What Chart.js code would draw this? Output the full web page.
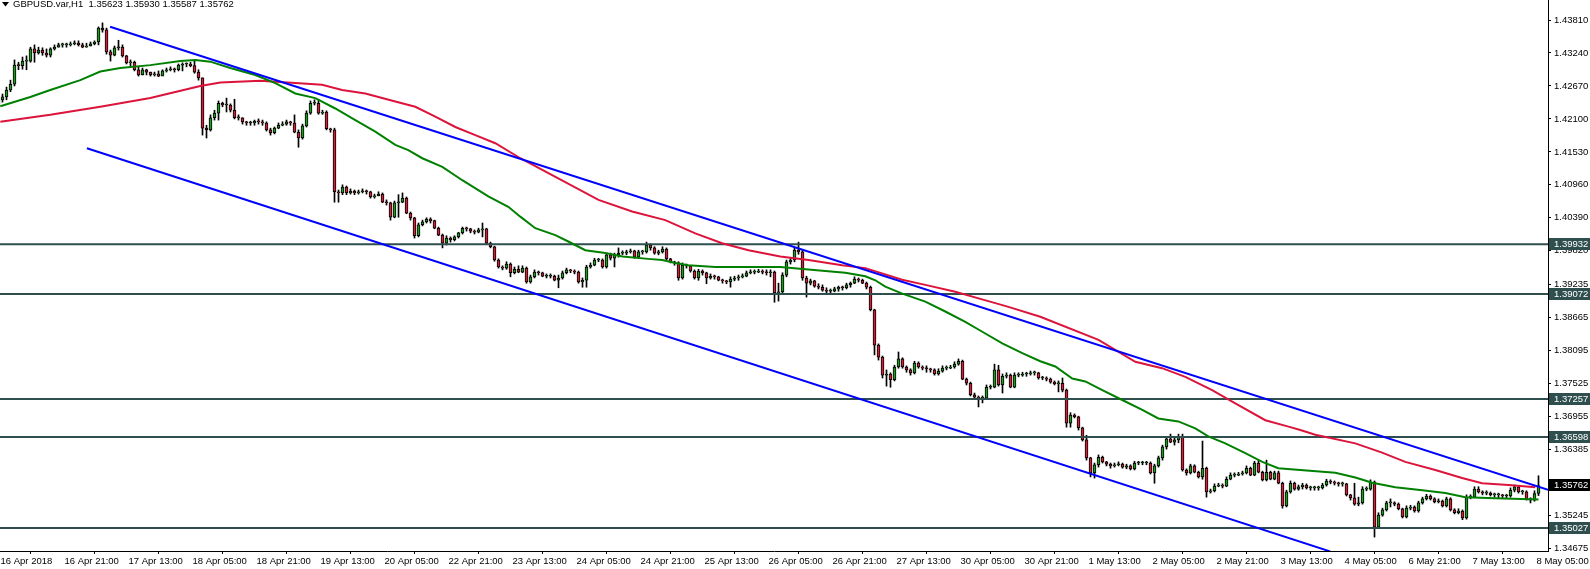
<!DOCTYPE html>
<html lang="en">
<head>
<meta charset="UTF-8">
<title>GBPUSD.var,H1</title>
<script src="https://cdn.jsdelivr.net/npm/chart.js"></script>
<style>
  html, body { margin: 0; padding: 0; background: #fff; }
  canvas { display: block; }
</style>
</head>
<body>
<canvas id="chart" width="1590" height="569"></canvas>
<script>
// H1 bars, 16 Apr 2018 -> 8 May 2018 (bar index = hour count on chart)
const firstOpen = 1.4234;
const closes = [
  1.4243, 1.4248, 1.4260, 1.4270, 1.4303, 1.4302, 1.4310, 1.4310, 1.4331, 1.4324,
  1.4329, 1.4324, 1.4320, 1.4331, 1.4334, 1.4338, 1.4338, 1.4338, 1.4340, 1.4341,
  1.4338, 1.4334, 1.4336, 1.4340, 1.4343, 1.4367, 1.4364, 1.4326, 1.4320, 1.4333,
  1.4334, 1.4319, 1.4307, 1.4308, 1.4295, 1.4286, 1.4295, 1.4291, 1.4286, 1.4288,
  1.4284, 1.4293, 1.4295, 1.4296, 1.4295, 1.4303, 1.4305, 1.4305, 1.4302, 1.4291,
  1.4281, 1.4194, 1.4191, 1.4212, 1.4220, 1.4237, 1.4234, 1.4234, 1.4225, 1.4212,
  1.4212, 1.4205, 1.4203, 1.4203, 1.4206, 1.4205, 1.4203, 1.4191, 1.4186, 1.4194,
  1.4199, 1.4201, 1.4205, 1.4203, 1.4187, 1.4177, 1.4198, 1.4220, 1.4237, 1.4237,
  1.4220, 1.4222, 1.4193, 1.4191, 1.4084, 1.4082, 1.4092, 1.4082, 1.4085, 1.4082,
  1.4084, 1.4085, 1.4084, 1.4075, 1.4077, 1.4080, 1.4066, 1.4065, 1.4040, 1.4065,
  1.4066, 1.4073, 1.4047, 1.4039, 1.4008, 1.4027, 1.4032, 1.4037, 1.4034, 1.4021,
  1.4009, 1.3995, 1.4004, 1.4001, 1.4006, 1.4013, 1.4021, 1.4020, 1.4016, 1.4014,
  1.4018, 1.4020, 1.3995, 1.3989, 1.3966, 1.3954, 1.3952, 1.3959, 1.3944, 1.3950,
  1.3945, 1.3952, 1.3928, 1.3937, 1.3945, 1.3944, 1.3938, 1.3938, 1.3938, 1.3931,
  1.3935, 1.3944, 1.3949, 1.3947, 1.3945, 1.3928, 1.3931, 1.3954, 1.3957, 1.3966,
  1.3966, 1.3954, 1.3975, 1.3969, 1.3975, 1.3978, 1.3978, 1.3980, 1.3982, 1.3971,
  1.3980, 1.3980, 1.3992, 1.3987, 1.3978, 1.3980, 1.3985, 1.3968, 1.3963, 1.3961,
  1.3935, 1.3957, 1.3956, 1.3947, 1.3935, 1.3947, 1.3944, 1.3935, 1.3938, 1.3937,
  1.3931, 1.3930, 1.3928, 1.3933, 1.3935, 1.3937, 1.3938, 1.3944, 1.3945, 1.3945,
  1.3947, 1.3945, 1.3944, 1.3945, 1.3909, 1.3911, 1.3940, 1.3963, 1.3966, 1.3983,
  1.3980, 1.3935, 1.3926, 1.3930, 1.3921, 1.3919, 1.3914, 1.3912, 1.3912, 1.3916,
  1.3919, 1.3918, 1.3923, 1.3926, 1.3933, 1.3931, 1.3926, 1.3919, 1.3880, 1.3819,
  1.3798, 1.3767, 1.3769, 1.3759, 1.3781, 1.3795, 1.3781, 1.3776, 1.3771, 1.3788,
  1.3781, 1.3779, 1.3778, 1.3776, 1.3769, 1.3774, 1.3779, 1.3779, 1.3781, 1.3786,
  1.3791, 1.3760, 1.3753, 1.3733, 1.3729, 1.3727, 1.3727, 1.3746, 1.3746, 1.3776,
  1.3750, 1.3765, 1.3767, 1.3746, 1.3767, 1.3767, 1.3769, 1.3769, 1.3771, 1.3771,
  1.3762, 1.3762, 1.3760, 1.3755, 1.3752, 1.3753, 1.3741, 1.3684, 1.3698, 1.3695,
  1.3676, 1.3655, 1.3624, 1.3598, 1.3612, 1.3625, 1.3617, 1.3613, 1.3610, 1.3612,
  1.3613, 1.3608, 1.3610, 1.3605, 1.3615, 1.3615, 1.3615, 1.3615, 1.3598, 1.3610,
  1.3624, 1.3643, 1.3657, 1.3651, 1.3655, 1.3660, 1.3603, 1.3598, 1.3610, 1.3599,
  1.3591, 1.3606, 1.3565, 1.3567, 1.3575, 1.3577, 1.3575, 1.3587, 1.3594, 1.3594,
  1.3596, 1.3598, 1.3606, 1.3594, 1.3615, 1.3599, 1.3586, 1.3599, 1.3587, 1.3598,
  1.3580, 1.3541, 1.3565, 1.3580, 1.3570, 1.3574, 1.3577, 1.3572, 1.3572, 1.3572,
  1.3572, 1.3577, 1.3584, 1.3582, 1.3580, 1.3579, 1.3579, 1.3560, 1.3555, 1.3544,
  1.3546, 1.3570, 1.3570, 1.3582, 1.3504, 1.3525, 1.3534, 1.3546, 1.3546, 1.3544,
  1.3536, 1.3522, 1.3537, 1.3539, 1.3532, 1.3546, 1.3553, 1.3558, 1.3553, 1.3548,
  1.3549, 1.3541, 1.3553, 1.3534, 1.3529, 1.3532, 1.3520, 1.3556, 1.3556, 1.3570,
  1.3565, 1.3563, 1.3563, 1.3560, 1.3560, 1.3560, 1.3558, 1.3558, 1.3568, 1.3574,
  1.3565, 1.3565, 1.3553, 1.3551, 1.35623, 1.35762
];
const highs = [
  1.4248, 1.4253, 1.4265, 1.4277, 1.4312, 1.4308, 1.4317, 1.4319, 1.4334, 1.4338,
  1.4334, 1.4333, 1.4331, 1.4333, 1.4338, 1.4341, 1.4341, 1.4341, 1.4343, 1.4345,
  1.4345, 1.4341, 1.4341, 1.4343, 1.4345, 1.4369, 1.4376, 1.4367, 1.4329, 1.4336,
  1.4346, 1.4338, 1.4320, 1.4312, 1.4310, 1.4300, 1.4298, 1.4296, 1.4291, 1.4291,
  1.4293, 1.4295, 1.4298, 1.4300, 1.4298, 1.4305, 1.4307, 1.4307, 1.4308, 1.4310,
  1.4295, 1.4281, 1.4199, 1.4217, 1.4225, 1.4241, 1.4239, 1.4246, 1.4236, 1.4244,
  1.4217, 1.4212, 1.4206, 1.4206, 1.4208, 1.4210, 1.4208, 1.4205, 1.4194, 1.4196,
  1.4203, 1.4205, 1.4208, 1.4206, 1.4217, 1.4191, 1.4201, 1.4224, 1.4241, 1.4243,
  1.4244, 1.4225, 1.4224, 1.4194, 1.4194, 1.4087, 1.4096, 1.4094, 1.4089, 1.4087,
  1.4087, 1.4089, 1.4087, 1.4085, 1.4080, 1.4084, 1.4082, 1.4070, 1.4066, 1.4068,
  1.4079, 1.4082, 1.4075, 1.4049, 1.4040, 1.4030, 1.4035, 1.4039, 1.4039, 1.4035,
  1.4023, 1.4011, 1.4008, 1.4006, 1.4008, 1.4014, 1.4023, 1.4023, 1.4021, 1.4018,
  1.4021, 1.4030, 1.4021, 1.3997, 1.3990, 1.3968, 1.3956, 1.3963, 1.3961, 1.3954,
  1.3956, 1.3956, 1.3954, 1.3940, 1.3949, 1.3947, 1.3945, 1.3942, 1.3942, 1.3940,
  1.3940, 1.3947, 1.3952, 1.3950, 1.3949, 1.3947, 1.3935, 1.3957, 1.3961, 1.3969,
  1.3969, 1.3968, 1.3978, 1.3978, 1.3978, 1.3987, 1.3982, 1.3983, 1.3985, 1.3983,
  1.3983, 1.3983, 1.3997, 1.3994, 1.3989, 1.3983, 1.3989, 1.3987, 1.3969, 1.3964,
  1.3963, 1.3961, 1.3959, 1.3957, 1.3949, 1.3950, 1.3949, 1.3945, 1.3942, 1.3940,
  1.3938, 1.3933, 1.3931, 1.3937, 1.3938, 1.3940, 1.3942, 1.3947, 1.3949, 1.3949,
  1.3950, 1.3949, 1.3949, 1.3949, 1.3947, 1.3926, 1.3944, 1.3966, 1.3969, 1.3987,
  1.3997, 1.3983, 1.3938, 1.3933, 1.3931, 1.3925, 1.3923, 1.3918, 1.3916, 1.3919,
  1.3921, 1.3921, 1.3926, 1.3928, 1.3937, 1.3935, 1.3933, 1.3928, 1.3921, 1.3881,
  1.3821, 1.3800, 1.3776, 1.3771, 1.3784, 1.3807, 1.3797, 1.3783, 1.3778, 1.3791,
  1.3790, 1.3783, 1.3783, 1.3779, 1.3778, 1.3778, 1.3783, 1.3783, 1.3784, 1.3790,
  1.3795, 1.3793, 1.3762, 1.3755, 1.3736, 1.3731, 1.3731, 1.3750, 1.3750, 1.3786,
  1.3784, 1.3769, 1.3771, 1.3769, 1.3771, 1.3771, 1.3772, 1.3772, 1.3774, 1.3774,
  1.3772, 1.3765, 1.3764, 1.3762, 1.3757, 1.3757, 1.3762, 1.3743, 1.3702, 1.3700,
  1.3696, 1.3677, 1.3663, 1.3625, 1.3615, 1.3629, 1.3627, 1.3618, 1.3615, 1.3615,
  1.3617, 1.3615, 1.3613, 1.3612, 1.3618, 1.3618, 1.3618, 1.3618, 1.3617, 1.3613,
  1.3627, 1.3646, 1.3660, 1.3665, 1.3658, 1.3665, 1.3665, 1.3605, 1.3613, 1.3612,
  1.3601, 1.3653, 1.3608, 1.3570, 1.3579, 1.3580, 1.3579, 1.3591, 1.3598, 1.3598,
  1.3599, 1.3601, 1.3610, 1.3608, 1.3618, 1.3620, 1.3601, 1.3620, 1.3601, 1.3601,
  1.3601, 1.3582, 1.3568, 1.3584, 1.3582, 1.3577, 1.3580, 1.3579, 1.3575, 1.3575,
  1.3575, 1.3580, 1.3587, 1.3586, 1.3584, 1.3582, 1.3582, 1.3580, 1.3561, 1.3580,
  1.3556, 1.3574, 1.3574, 1.3586, 1.3584, 1.3529, 1.3537, 1.3549, 1.3553, 1.3548,
  1.3546, 1.3537, 1.3541, 1.3542, 1.3541, 1.3549, 1.3556, 1.3561, 1.3560, 1.3555,
  1.3553, 1.3551, 1.3556, 1.3555, 1.3536, 1.3536, 1.3534, 1.3560, 1.3560, 1.3574,
  1.3574, 1.3567, 1.3567, 1.3565, 1.3563, 1.3563, 1.3561, 1.3561, 1.3572, 1.3577,
  1.3575, 1.3568, 1.3567, 1.3555, 1.3567, 1.35930
];
const lows = [
  1.4231, 1.4239, 1.4243, 1.4257, 1.4267, 1.4295, 1.4296, 1.4295, 1.4308, 1.4308,
  1.4322, 1.4320, 1.4317, 1.4317, 1.4329, 1.4334, 1.4334, 1.4334, 1.4336, 1.4338,
  1.4336, 1.4333, 1.4334, 1.4336, 1.4338, 1.4338, 1.4360, 1.4322, 1.4310, 1.4319,
  1.4329, 1.4317, 1.4305, 1.4300, 1.4293, 1.4284, 1.4286, 1.4286, 1.4284, 1.4284,
  1.4283, 1.4288, 1.4291, 1.4293, 1.4291, 1.4293, 1.4293, 1.4300, 1.4300, 1.4289,
  1.4277, 1.4182, 1.4177, 1.4189, 1.4208, 1.4208, 1.4231, 1.4222, 1.4222, 1.4210,
  1.4208, 1.4201, 1.4199, 1.4199, 1.4199, 1.4201, 1.4199, 1.4189, 1.4182, 1.4184,
  1.4193, 1.4198, 1.4199, 1.4199, 1.4186, 1.4161, 1.4175, 1.4196, 1.4218, 1.4234,
  1.4218, 1.4218, 1.4191, 1.4187, 1.4066, 1.4066, 1.4079, 1.4079, 1.4080, 1.4079,
  1.4080, 1.4082, 1.4080, 1.4073, 1.4073, 1.4077, 1.4065, 1.4061, 1.4035, 1.4039,
  1.4040, 1.4065, 1.4046, 1.4035, 1.4004, 1.4006, 1.4025, 1.4030, 1.4030, 1.4020,
  1.4008, 1.3987, 1.3992, 1.3997, 1.3999, 1.4004, 1.4011, 1.4016, 1.4013, 1.4011,
  1.4013, 1.4006, 1.3994, 1.3987, 1.3964, 1.3952, 1.3949, 1.3950, 1.3937, 1.3942,
  1.3944, 1.3944, 1.3926, 1.3926, 1.3935, 1.3940, 1.3937, 1.3935, 1.3935, 1.3930,
  1.3918, 1.3933, 1.3942, 1.3944, 1.3942, 1.3926, 1.3919, 1.3919, 1.3952, 1.3956,
  1.3963, 1.3952, 1.3952, 1.3966, 1.3954, 1.3971, 1.3975, 1.3975, 1.3978, 1.3969,
  1.3969, 1.3976, 1.3978, 1.3983, 1.3976, 1.3975, 1.3978, 1.3966, 1.3961, 1.3957,
  1.3931, 1.3933, 1.3952, 1.3945, 1.3933, 1.3931, 1.3940, 1.3925, 1.3933, 1.3933,
  1.3930, 1.3926, 1.3925, 1.3919, 1.3930, 1.3931, 1.3935, 1.3937, 1.3942, 1.3942,
  1.3944, 1.3942, 1.3940, 1.3937, 1.3893, 1.3895, 1.3909, 1.3937, 1.3959, 1.3963,
  1.3976, 1.3931, 1.3902, 1.3923, 1.3919, 1.3916, 1.3912, 1.3909, 1.3909, 1.3911,
  1.3912, 1.3914, 1.3916, 1.3919, 1.3925, 1.3928, 1.3925, 1.3916, 1.3878, 1.3802,
  1.3793, 1.3762, 1.3748, 1.3746, 1.3757, 1.3779, 1.3779, 1.3772, 1.3767, 1.3769,
  1.3779, 1.3776, 1.3772, 1.3772, 1.3767, 1.3767, 1.3772, 1.3776, 1.3778, 1.3779,
  1.3784, 1.3759, 1.3750, 1.3731, 1.3726, 1.3712, 1.3719, 1.3726, 1.3743, 1.3745,
  1.3748, 1.3736, 1.3762, 1.3745, 1.3745, 1.3764, 1.3765, 1.3765, 1.3767, 1.3767,
  1.3760, 1.3759, 1.3757, 1.3753, 1.3750, 1.3738, 1.3738, 1.3677, 1.3677, 1.3693,
  1.3672, 1.3653, 1.3620, 1.3591, 1.3589, 1.3608, 1.3615, 1.3610, 1.3606, 1.3608,
  1.3610, 1.3606, 1.3605, 1.3603, 1.3603, 1.3612, 1.3612, 1.3612, 1.3596, 1.3580,
  1.3608, 1.3620, 1.3639, 1.3650, 1.3646, 1.3650, 1.3601, 1.3594, 1.3596, 1.3598,
  1.3589, 1.3587, 1.3556, 1.3563, 1.3565, 1.3574, 1.3572, 1.3574, 1.3586, 1.3591,
  1.3593, 1.3594, 1.3596, 1.3593, 1.3593, 1.3598, 1.3584, 1.3584, 1.3586, 1.3586,
  1.3579, 1.3537, 1.3539, 1.3563, 1.3568, 1.3568, 1.3570, 1.3570, 1.3568, 1.3568,
  1.3568, 1.3570, 1.3575, 1.3579, 1.3577, 1.3575, 1.3575, 1.3558, 1.3551, 1.3542,
  1.3541, 1.3544, 1.3567, 1.3568, 1.3487, 1.3504, 1.3523, 1.3532, 1.3539, 1.3541,
  1.3534, 1.3520, 1.3520, 1.3534, 1.3530, 1.3530, 1.3544, 1.3551, 1.3551, 1.3546,
  1.3546, 1.3539, 1.3539, 1.3532, 1.3527, 1.3527, 1.3517, 1.3518, 1.3553, 1.3555,
  1.3563, 1.3560, 1.3560, 1.3558, 1.3556, 1.3555, 1.3555, 1.3555, 1.3556, 1.3565,
  1.3563, 1.3561, 1.3551, 1.3546, 1.3549, 1.35587
];

// green and red moving averages at a few bars
const maFastBars = [0.45, 7.95, 12.95, 20.45, 25.45, 30.45, 37.95, 45.45, 49.2, 52.95,
  57.95, 64.2, 69.2, 74.2, 79.2, 84.2, 89.2, 94.2, 99.2, 102.45,
  105.95, 110.95, 115.95, 122.45, 127.45, 130.45, 134.2, 139.2, 142.45, 146.7,
  151.7, 155.95, 162.45, 165.95, 169.2, 172.45, 179.2, 195.45, 206.7, 211.7,
  216.7, 219.2, 221.7, 225.95, 231.7, 236.7, 241.7, 245.95, 250.95, 255.95,
  260.45, 264.2, 268.45, 271.7, 275.95, 280.95, 285.95, 289.95, 294.95, 299.2,
  302.45, 306.7, 311.7, 315.95, 319.95, 325.45, 334.2, 339.2, 343.45, 349.2,
  355.95, 361.7, 366.7, 374.2, 385];
const maFastValues = [1.4232, 1.4248, 1.4260, 1.4277, 1.4292, 1.4298, 1.4303, 1.4310, 1.4312, 1.4309,
  1.4298, 1.4286, 1.4272, 1.4254, 1.4246, 1.4228, 1.4208, 1.4188, 1.4165, 1.4156,
  1.4142, 1.4127, 1.4104, 1.4076, 1.4058, 1.4041, 1.4021, 1.4009, 1.3998, 1.3983,
  1.3978, 1.3972, 1.3968, 1.3966, 1.3961, 1.3957, 1.3954, 1.3954, 1.3947, 1.3944,
  1.3938, 1.3931, 1.3920, 1.3908, 1.3894, 1.3877, 1.3859, 1.3842, 1.3822, 1.3805,
  1.3791, 1.3782, 1.3761, 1.3756, 1.3741, 1.3724, 1.3707, 1.3692, 1.3687, 1.3675,
  1.3661, 1.3649, 1.3632, 1.3617, 1.3606, 1.3603, 1.3598, 1.3590, 1.3581, 1.3573,
  1.3568, 1.3563, 1.3556, 1.3554, 1.3552];
const maSlowBars = [0.45, 12.95, 25.45, 37.95, 50.45, 55.45, 65.45, 74.2, 80.9, 85.9,
  91.7, 99.2, 104.2, 109.2, 114.2, 119.2, 124.2, 130.45, 150, 158.4,
  166.7, 174.2, 180.9, 187.5, 195.45, 202.5, 210.9, 216.7, 220.9, 225.9,
  231.7, 239.2, 245.9, 252.5, 260.45, 275, 284.2, 290.9, 296.7, 303.4,
  309.2, 316.7, 322.5, 325.45, 329.2, 339.2, 345.9, 351.7, 359.2, 365.9,
  370.9, 377.5, 384.2];
const maSlowValues = [1.4205, 1.4217, 1.4231, 1.4246, 1.4267, 1.4273, 1.4276, 1.4272, 1.4269, 1.4260,
  1.4254, 1.4240, 1.4231, 1.4214, 1.4196, 1.4182, 1.4168, 1.4142, 1.4070, 1.4050,
  1.4035, 1.4012, 1.3995, 1.3983, 1.3972, 1.3966, 1.3957, 1.3952, 1.3943, 1.3932,
  1.3923, 1.3911, 1.3898, 1.3885, 1.3868, 1.3828, 1.3790, 1.3779, 1.3764, 1.3741,
  1.3718, 1.3689, 1.3678, 1.3672, 1.3664, 1.3649, 1.3633, 1.3617, 1.3603, 1.3589,
  1.3580, 1.3577, 1.3573];

// descending channel (two anchor points each)
const upperTrendBars = [27.9, 387.4];
const upperTrendValues = [1.43694, 1.35688];
const lowerTrendBars = [22.1, 332.9];
const lowerTrendValues = [1.41593, 1.34622];

const levels = [1.39932, 1.39072, 1.37257, 1.36598, 1.35027];
const lastPrice = 1.35762;
const headerText = 'GBPUSD.var,H1  1.35623 1.35930 1.35587 1.35762';

const timeLabels = ['16 Apr 2018', '16 Apr 21:00', '17 Apr 13:00', '18 Apr 05:00', '18 Apr 21:00',
  '19 Apr 13:00', '20 Apr 05:00', '22 Apr 21:00', '23 Apr 13:00', '24 Apr 05:00',
  '24 Apr 21:00', '25 Apr 13:00', '26 Apr 05:00', '26 Apr 21:00', '27 Apr 13:00',
  '30 Apr 05:00', '30 Apr 21:00', '1 May 13:00', '2 May 05:00', '2 May 21:00',
  '3 May 13:00', '4 May 05:00', '6 May 21:00', '7 May 13:00', '8 May 05:00'];
const priceTicks = [1.43810, 1.43240, 1.42670, 1.42100, 1.41530, 1.40960, 1.40390, 1.39820,
  1.39235, 1.38665, 1.38095, 1.37525, 1.36955, 1.36385, 1.35815, 1.35245, 1.34675];

// view window
const xMin = 0.375, xMax = 387.375;
const yMin = 1.34629, yMax = 1.44156;

const BULL = '#1f9a1f';
const BEAR = '#d0213a';
const FONT = '"Liberation Sans", Arial, sans-serif';
const FONT_SIZE = 9.5;

Chart.defaults.font.family = FONT;
Chart.defaults.font.size = FONT_SIZE;
Chart.defaults.color = '#000';

const opens = closes.map((c, i) => i === 0 ? firstOpen : closes[i - 1]);
const wickData = closes.map((c, i) => ({ x: i, y: [lows[i], highs[i]] }));
const bodyData = closes.map((c, i) => ({ x: i, y: [opens[i], c] }));
const toPoints = (xs, ys) => xs.map((x, i) => ({ x: x, y: ys[i] }));

const lineStyle = { type: 'line', pointRadius: 0, borderWidth: 2, tension: 0, fill: false };

const datasets = [
  { type: 'bar', data: wickData, backgroundColor: '#000', barThickness: 1, grouped: false, order: 5 },
  {
    type: 'bar', data: bodyData,
    backgroundColor: ctx => (closes[ctx.dataIndex] >= opens[ctx.dataIndex] ? BULL : BEAR),
    borderColor: '#000', borderWidth: 1, borderSkipped: false,
    barThickness: 3, minBarLength: 1, grouped: false, order: 4
  },
  ...levels.map(v => ({ ...lineStyle, data: [{ x: xMin, y: v }, { x: xMax, y: v }], borderColor: '#2f4f4f', order: 3 })),
  { ...lineStyle, data: toPoints(maSlowBars, maSlowValues), borderColor: '#dc143c', order: 2 },
  { ...lineStyle, data: toPoints(maFastBars, maFastValues), borderColor: '#008000', order: 1 },
  { ...lineStyle, data: toPoints(upperTrendBars, upperTrendValues), borderColor: '#0000ff', order: 0 },
  { ...lineStyle, data: toPoints(lowerTrendBars, lowerTrendValues), borderColor: '#0000ff', order: 0 }
];

// price boxes on the right axis and the symbol line at top-left
const overlay = {
  id: 'overlay',
  afterDraw(chart) {
    const { ctx, scales } = chart;
    const y = scales.y;
    ctx.save();
    ctx.font = FONT_SIZE + 'px ' + FONT;
    ctx.textBaseline = 'middle';
    ctx.textAlign = 'left';
    const box = (v, color) => {
      const py = Math.round(y.getPixelForValue(v));
      ctx.fillStyle = color;
      ctx.fillRect(1549, py - 6, 41, 12);
      ctx.fillStyle = '#fff';
      ctx.fillText(v.toFixed(5), 1554, py + 0.5);
    };
    levels.forEach(v => box(v, '#2f4f4f'));
    box(lastPrice, '#000');

    ctx.fillStyle = '#000';
    ctx.beginPath();
    ctx.moveTo(2, 2); ctx.lineTo(9, 2); ctx.lineTo(5.5, 6.5);
    ctx.closePath();
    ctx.fill();
    ctx.fillText(headerText, 13, 4.5);
    ctx.restore();
  }
};

new Chart(document.getElementById('chart'), {
  type: 'bar',
  data: { datasets: datasets },
  options: {
    responsive: false,
    animation: false,
    events: [],
    layout: { padding: 0 },
    plugins: { legend: { display: false }, tooltip: { enabled: false } },
    scales: {
      x: {
        type: 'linear', position: 'bottom', min: xMin, max: xMax, offset: false,
        grid: { display: true, drawOnChartArea: false, drawTicks: true, tickLength: 3, color: '#000' },
        border: { display: true, color: '#000', width: 1 },
        ticks: {
          autoSkip: false, maxRotation: 0, minRotation: 0, align: 'start', labelOffset: 2, padding: 2,
          callback: (v, i) => timeLabels[i]
        },
        afterBuildTicks: s => { s.ticks = timeLabels.map((t, i) => ({ value: i * 16 })); },
        afterFit: s => { s.height = 18; s.paddingLeft = 0; s.paddingRight = 0; }
      },
      y: {
        type: 'linear', position: 'right', min: yMin, max: yMax,
        grid: { display: true, drawOnChartArea: false, drawTicks: true, tickLength: 3, color: '#000' },
        border: { display: true, color: '#000', width: 1 },
        ticks: { autoSkip: false, padding: 3, callback: v => v.toFixed(5) },
        afterBuildTicks: s => { s.ticks = priceTicks.map(v => ({ value: v })); },
        afterFit: s => { s.width = 42; s.paddingTop = 0; s.paddingBottom = 0; }
      }
    }
  },
  plugins: [overlay]
});
</script>
</body>
</html>
